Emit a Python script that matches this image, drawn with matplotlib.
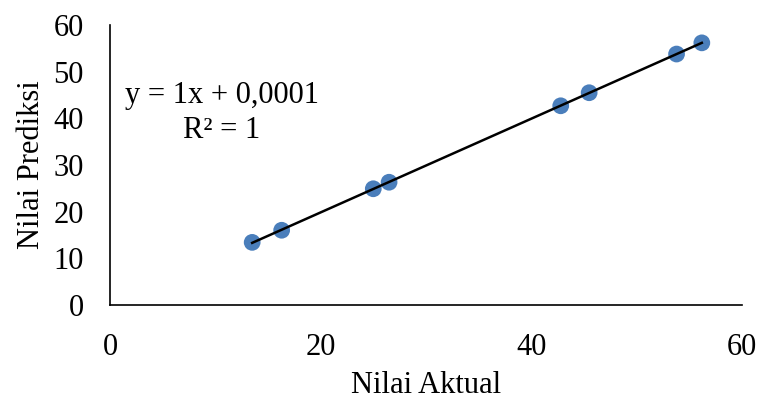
import matplotlib
matplotlib.use("Agg")
import matplotlib.pyplot as plt
import numpy as np

actual = [13.5, 16.3, 25.0, 26.5, 42.8, 45.5, 53.8, 56.2]
predicted = [13.4, 16.0, 24.9, 26.3, 42.7, 45.5, 53.8, 56.2]
x_ticks = [0, 20, 40, 60]
y_ticks = [0, 10, 20, 30, 40, 50, 60]

plt.rcParams['font.family'] = ['Liberation Serif', 'DejaVu Serif']
FS = 22

fig = plt.figure(figsize=(7.64, 3.99), dpi=100)
ax = fig.add_axes([0.144, 0.236, 0.827, 0.701])

ax.scatter(actual, predicted, s=145, color='#4A7EBB', zorder=3, edgecolors='none')
slope, intercept = np.polyfit(actual, predicted, 1)
xs = np.array([min(actual), max(actual)])
ax.plot(xs, slope * xs + intercept, color='black', lw=1.8, zorder=4)

ax.set_xlim(0, 60)
ax.set_ylim(0, 60)
ax.set_xticks(x_ticks)
ax.set_yticks(y_ticks)
ax.tick_params(length=0, labelsize=FS)
ax.tick_params(axis='x', pad=20)
ax.tick_params(axis='y', pad=19)
for s in ['top', 'right']:
    ax.spines[s].set_visible(False)
for s in ['left', 'bottom']:
    ax.spines[s].set_linewidth(1.2)
ax.set_xlabel('Nilai Aktual', fontsize=FS, labelpad=7)
ax.set_ylabel('Nilai Prediksi', fontsize=FS, labelpad=5)

fig.text(222 / 764, 1 - 96 / 399, 'y = 1x + 0,0001', fontsize=FS, ha='center', va='center')
fig.text(222 / 764, 1 - 130 / 399, 'R² = 1', fontsize=FS, ha='center', va='center')

fig.savefig('out.png', dpi=100)
